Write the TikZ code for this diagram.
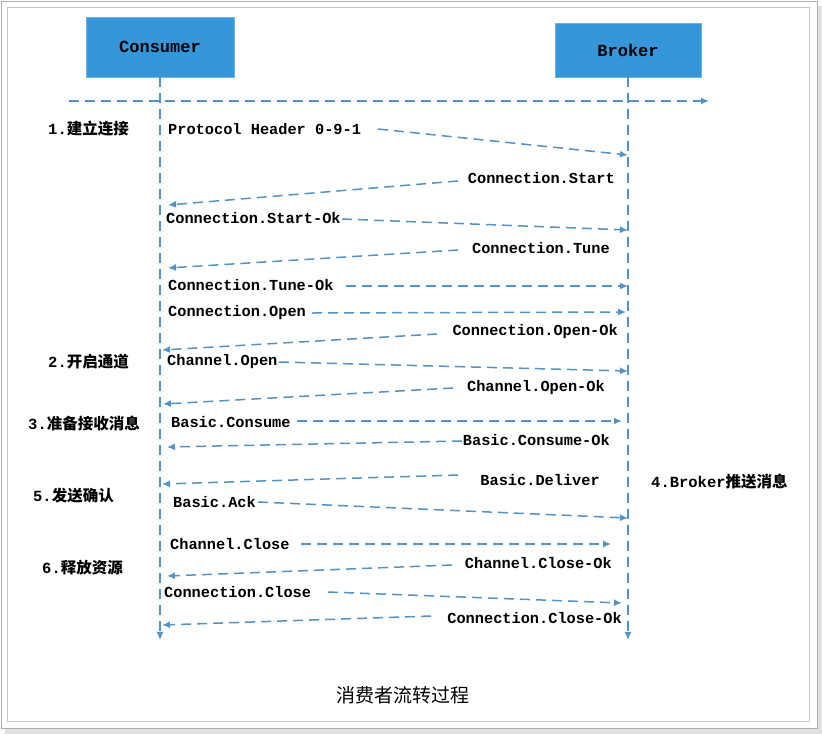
\documentclass[tikz,border=0pt]{standalone}
\usepackage{fontspec}
\newfontfamily\lat{Liberation Mono}
\newfontfamily\cjk{Noto Sans CJK SC}
\usetikzlibrary{arrows.meta}
\definecolor{boxblue}{RGB}{54,150,218}
\definecolor{boxedge}{RGB}{110,180,230}
\definecolor{lineblue}{RGB}{82,146,196}
\definecolor{frameg}{RGB}{175,175,175}
\definecolor{frameh}{RGB}{200,200,200}
\definecolor{shadowg}{RGB}{225,225,225}
\begin{document}
\begin{tikzpicture}[x=1pt,y=-1pt,
  actor/.style={draw=boxedge, fill=boxblue, line width=0.6pt, inner sep=0,
    font=\lat\bfseries\fontsize{17}{18}\selectfont},
  msg/.style={inner sep=0, font=\lat\bfseries\fontsize{15.3}{16}\selectfont},
  cnlabel/.style={inner sep=0, font=\bfseries\fontsize{15.5}{16}\selectfont},
  arr/.style={draw=lineblue, line width=1.5pt, dash pattern=on 10pt off 6pt,
    -{Latex[length=8pt,width=7pt]}}]
\useasboundingbox (0,0) rectangle (822,734);
% frame
\fill[shadowg] (5,6) rectangle (822,734);
\filldraw[fill=white, draw=frameg, line width=1pt] (1,1) rectangle (817,728);
\draw[frameh, line width=1pt] (7,7) rectangle (809,721);
% actors
\node[actor, minimum width=148, minimum height=60] (consumer) at (160,47) {Consumer};
\node[actor, minimum width=146, minimum height=54] (broker) at (628,50) {Broker};
% time axis
\coordinate (ax0) at (69,101);
\coordinate (ax1) at (709,101);
\draw[arr] (ax0) -- (ax1);
% lifelines
\coordinate (cend) at (160,640);
\coordinate (bend) at (628,640);
\draw[arr] (consumer.south) -- (cend);
\draw[arr] (broker.south) -- (bend);
% left labels
\node[cnlabel, anchor=west] (l1) at (48,129) {\lat 1.\cjk 建立连接};
\node[cnlabel, anchor=west] (l2) at (48,362) {\lat 2.\cjk 开启通道};
\node[cnlabel, anchor=west] (l3) at (28,424) {\lat 3.\cjk 准备接收消息};
\node[cnlabel, anchor=west] (l5) at (33,496) {\lat 5.\cjk 发送确认};
\node[cnlabel, anchor=west] (l6) at (42,568) {\lat 6.\cjk 释放资源};
\node[cnlabel, anchor=west] (l4) at (651,482) {\lat 4.Broker\cjk 推送消息};
% messages
\node[msg, anchor=west] (m1) at (168,129) {Protocol Header 0-9-1};
\node[msg, anchor=east] (m2) at (615,178) {Connection.Start};
\node[msg, anchor=west] (m3) at (166,218) {Connection.Start-Ok};
\node[msg, anchor=east] (m4) at (610,248) {Connection.Tune};
\node[msg, anchor=west] (m5) at (168,285) {Connection.Tune-Ok};
\node[msg, anchor=west] (m6) at (168,313) {Connection.Open};
\node[msg, anchor=east] (m7) at (618,332) {Connection.Open-Ok};
\node[msg, anchor=west] (m8) at (167,362) {Channel.Open};
\node[msg, anchor=east] (m9) at (605,388) {Channel.Open-Ok};
\node[msg, anchor=west] (m10) at (171,422) {Basic.Consume};
\node[msg, anchor=east] (m11) at (610,440) {Basic.Consume-Ok};
\node[msg, anchor=east] (m12) at (600,480) {Basic.Deliver};
\node[msg, anchor=west] (m13) at (173,502) {Basic.Ack};
\node[msg, anchor=west] (m14) at (170,544) {Channel.Close};
\node[msg, anchor=east] (m15) at (612,563) {Channel.Close-Ok};
\node[msg, anchor=west] (m16) at (164,592) {Connection.Close};
\node[msg, anchor=east] (m17) at (622,618) {Connection.Close-Ok};
% arrow end points
\coordinate (s1) at (378,129);  \coordinate (e1) at (628,155);
\coordinate (s2) at (458,181);  \coordinate (e2) at (168,205);
\coordinate (s3) at (342,219);  \coordinate (e3) at (628,230);
\coordinate (s4) at (458,250);  \coordinate (e4) at (168,268);
\coordinate (s5) at (346,286);  \coordinate (e5) at (628,286);
\coordinate (s6) at (312,313);  \coordinate (e6) at (626,312);
\coordinate (s7) at (437,334);  \coordinate (e7) at (162,350);
\coordinate (s8) at (279,362);  \coordinate (e8) at (628,371);
\coordinate (s9) at (453,388);  \coordinate (e9) at (163,404);
\coordinate (s10) at (297,421); \coordinate (e10) at (622,421);
\coordinate (s11) at (462,441); \coordinate (e11) at (167,447);
\coordinate (s12) at (458,475); \coordinate (e12) at (162,484);
\coordinate (s13) at (258,502); \coordinate (e13) at (628,518);
\coordinate (s14) at (301,544); \coordinate (e14) at (611,544);
\coordinate (s15) at (452,565); \coordinate (e15) at (167,576);
\coordinate (s16) at (328,592); \coordinate (e16) at (622,603);
\coordinate (s17) at (431,616); \coordinate (e17) at (162,625);
\foreach \i in {1,...,17} { \draw[arr] (s\i) -- (e\i); }
% caption
\node[inner sep=0, font=\cjk\fontsize{19}{20}\selectfont] (cap) at (403,695) {消费者流转过程};
\end{tikzpicture}
\end{document}
